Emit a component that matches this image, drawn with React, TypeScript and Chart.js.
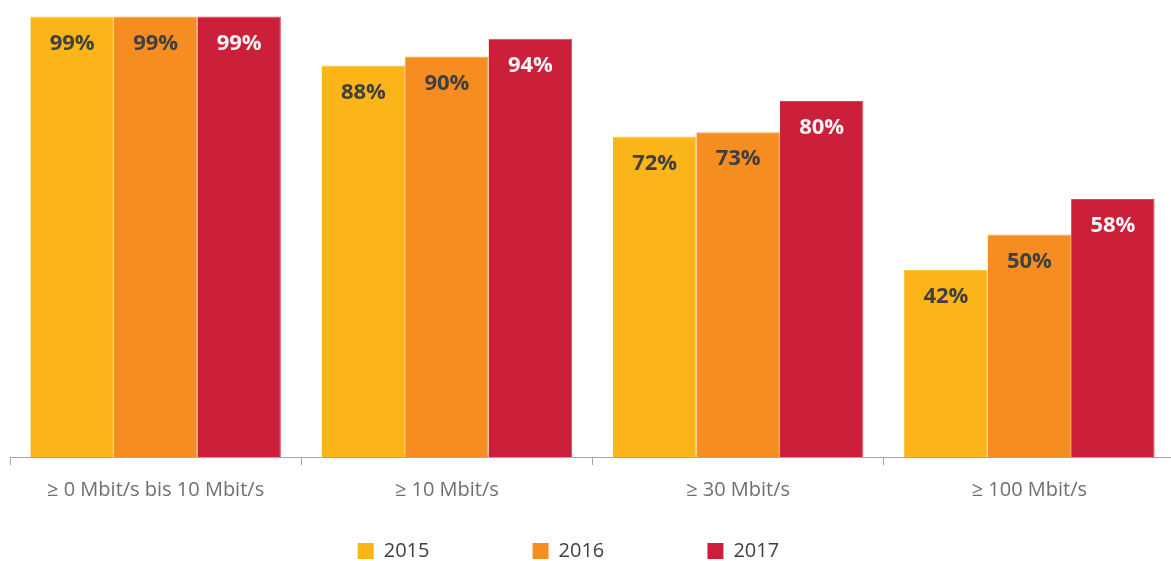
import React, { useEffect, useRef } from 'react';
import { Chart, registerables } from 'chart.js';

Chart.register(...registerables);

const categories = ['≥ 0 Mbit/s bis 10 Mbit/s', '≥ 10 Mbit/s', '≥ 30 Mbit/s', '≥ 100 Mbit/s'];
const seriesNames = ['2015', '2016', '2017'];
const values2015 = [99, 88, 72, 42];
const values2016 = [99, 90, 73, 50];
const values2017 = [99, 94, 80, 58];
const seriesColors = ['#FBB519', '#F68D20', '#CB1F3A'];
const edgeColors = ['#FCC246', '#F89E47', '#D4485E'];
const labelColors = ['#404040', '#404040', '#F4F4F4'];

const FONT = '"Open Sans", "DejaVu Sans", sans-serif';

const valueLabels = {
  id: 'valueLabels',
  afterDatasetsDraw(chart: any) {
    const ctx = chart.ctx;
    ctx.save();
    ctx.font = `bold 22px ${FONT}`;
    ctx.textAlign = 'center';
    ctx.textBaseline = 'middle';
    chart.data.datasets.forEach((ds: any, i: number) => {
      const meta = chart.getDatasetMeta(i);
      meta.data.forEach((bar: any, j: number) => {
        ctx.fillStyle = labelColors[i];
        ctx.fillText(`${ds.data[j]}%`, bar.x, bar.y + 27);
      });
    });
    ctx.restore();
  },
};

export default function App() {
  const ref = useRef<HTMLCanvasElement>(null);
  useEffect(() => {
    if (!ref.current) return;
    const seriesValues = [values2015, values2016, values2017];
    const chart = new Chart(ref.current, {
      type: 'bar',
      data: {
        labels: categories,
        datasets: seriesNames.map((name, i) => ({
          label: name,
          data: seriesValues[i],
          backgroundColor: seriesColors[i],
          borderColor: edgeColors[i],
          borderWidth: { top: 1, left: 0, right: 1, bottom: 0 },
          borderSkipped: 'bottom',
          categoryPercentage: 0.86,
          barPercentage: 1,
        })),
      },
      options: {
        responsive: false,
        animation: false,
        devicePixelRatio: 1,
        layout: { padding: { top: 12, left: 0, right: 0, bottom: 0 } },
        plugins: {
          tooltip: { enabled: false },
          legend: {
            position: 'bottom',
            labels: {
              boxWidth: 16,
              boxHeight: 16,
              padding: 20,
              color: '#404040',
              font: { family: FONT, size: 20 },
              generateLabels: (c: any) =>
                Chart.defaults.plugins.legend.labels.generateLabels(c).map((it: any) => ({
                  ...it,
                  text: it.text + '                ',
                  fillStyle: seriesColors[it.datasetIndex],
                  lineWidth: 0,
                })),
            },
          },
        },
        scales: {
          x: {
            grid: {
              offset: true,
              drawOnChartArea: false,
              tickLength: 8,
              color: '#A6A6A6',
            },
            border: { color: '#A6A6A6', width: 1 },
            ticks: {
              color: '#6F6F6F',
              font: { family: FONT, size: 20 },
              padding: 13,
              maxRotation: 0,
              autoSkip: false,
            },
            afterFit: (s: any) => {
              s.height = 64;
            },
          },
          y: {
            min: 0,
            max: 100,
            ticks: { display: false },
            grid: { display: false },
            border: { display: false },
            afterFit: (s: any) => {
              s.width = 10;
            },
          },
          yRight: {
            position: 'right',
            min: 0,
            max: 100,
            ticks: { display: false },
            grid: { display: false },
            border: { display: false },
            afterFit: (s: any) => {
              s.width = 45;
            },
          },
        },
      },
      plugins: [valueLabels],
    });
    return () => chart.destroy();
  }, []);

  return (
    <div
      style={{
        position: 'fixed',
        left: 0,
        top: 0,
        width: 1171,
        height: 561,
        overflow: 'hidden',
        background: '#ffffff',
      }}
    >
      <canvas
        ref={ref}
        width={1220}
        height={571}
        style={{ position: 'absolute', left: 0, top: 0, width: 1220, height: 571 }}
      />
    </div>
  );
}
